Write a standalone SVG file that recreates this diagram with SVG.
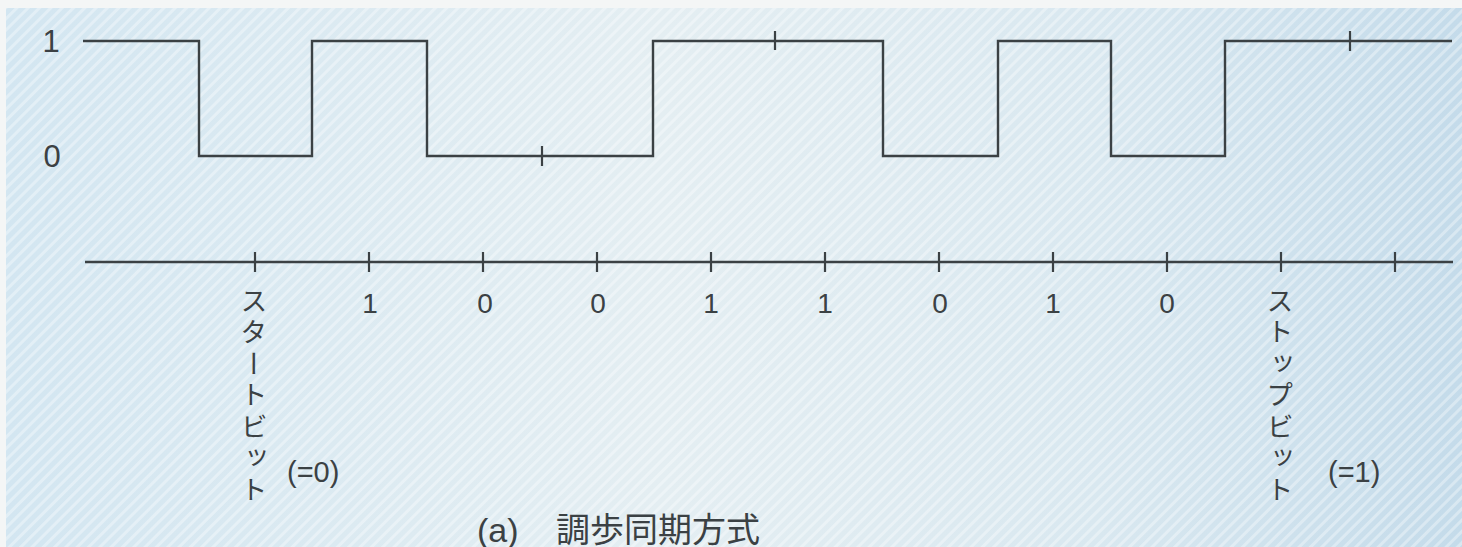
<svg xmlns="http://www.w3.org/2000/svg" width="1462" height="547" viewBox="0 0 1462 547">
  <defs>
    <linearGradient id="bg" x1="0" y1="0" x2="1" y2="0">
      <stop offset="0" stop-color="#d3e6f1"/>
      <stop offset="0.45" stop-color="#e4eef2"/>
      <stop offset="0.75" stop-color="#d9e8f0"/>
      <stop offset="1" stop-color="#c4dbea"/>
    </linearGradient>
    <pattern id="stripes" width="8" height="8" patternUnits="userSpaceOnUse" patternTransform="rotate(45)">
      <rect width="3" height="8" fill="#ffffff" opacity="0.35"/>
    </pattern>
  </defs>
  <style>
    .ln { fill: none; stroke: #3b4144; stroke-width: 2.4; }
    .tk { stroke: #3b4144; stroke-width: 2.2; }
    .num { font-family: "Liberation Sans", Arial, sans-serif; font-size: 28px; fill: #3b4144; text-anchor: middle; }
    .lvl { font-family: "Liberation Sans", Arial, sans-serif; font-size: 31px; fill: #3b4144; text-anchor: middle; }
    .vt { font-family: "Noto Sans CJK JP", sans-serif; font-size: 27px; fill: #3b4144; writing-mode: vertical-rl; letter-spacing: 4.5px; }
    .par { font-family: "Liberation Sans", Arial, sans-serif; font-size: 29px; fill: #3b4144; }
    .cap { font-family: "Liberation Sans", "Noto Sans CJK JP", sans-serif; font-size: 34px; fill: #3b4144; }
  </style>
  <rect x="0" y="0" width="1462" height="547" fill="#f4f6f6"/>
  <rect x="6" y="8" width="1456" height="539" fill="url(#bg)"/>
  <rect x="6" y="8" width="1456" height="539" fill="url(#stripes)"/>

  <g id="levels">
    <text class="lvl" x="51" y="52">1</text>
    <text class="lvl" x="52" y="167">0</text>
  </g>

  <g id="waveform">
    <path class="ln" d="M83,41 H199 V156 H312 V41 H427 V156 H653 V41 H883 V156 H998 V41 H1111 V156 H1225 V41 H1452"/>
    <line class="tk" x1="542" y1="146" x2="542" y2="166"/>
    <line class="tk" x1="775" y1="31" x2="775" y2="50"/>
    <line class="tk" x1="1350" y1="31" x2="1350" y2="51"/>
  </g>

  <g id="axis">
    <line class="ln" x1="85" y1="262" x2="1453" y2="262"/>
    <line class="tk" x1="255" y1="252" x2="255" y2="272"/>
    <line class="tk" x1="369" y1="252" x2="369" y2="272"/>
    <line class="tk" x1="483" y1="252" x2="483" y2="272"/>
    <line class="tk" x1="597" y1="252" x2="597" y2="272"/>
    <line class="tk" x1="711" y1="252" x2="711" y2="272"/>
    <line class="tk" x1="825" y1="252" x2="825" y2="272"/>
    <line class="tk" x1="939" y1="252" x2="939" y2="272"/>
    <line class="tk" x1="1053" y1="252" x2="1053" y2="272"/>
    <line class="tk" x1="1167" y1="252" x2="1167" y2="272"/>
    <line class="tk" x1="1281" y1="252" x2="1281" y2="272"/>
    <line class="tk" x1="1395" y1="252" x2="1395" y2="272"/>
  </g>

  <g id="bits">
    <text class="num" x="370" y="313">1</text>
    <text class="num" x="485" y="313">0</text>
    <text class="num" x="598" y="313">0</text>
    <text class="num" x="711" y="313">1</text>
    <text class="num" x="825" y="313">1</text>
    <text class="num" x="940" y="313">0</text>
    <text class="num" x="1053" y="313">1</text>
    <text class="num" x="1167" y="313">0</text>
  </g>

  <g id="start-bit">
    <text class="vt" x="254" y="287">スタートビット</text>
    <text class="par" x="287" y="482">(=0)</text>
  </g>

  <g id="stop-bit">
    <text class="vt" x="1280" y="287">ストップビット</text>
    <text class="par" x="1328" y="482">(=1)</text>
  </g>

  <g id="caption">
    <text class="cap" x="477" y="542">(a)</text>
    <text class="cap" x="556" y="542">調歩同期方式</text>
  </g>
</svg>
